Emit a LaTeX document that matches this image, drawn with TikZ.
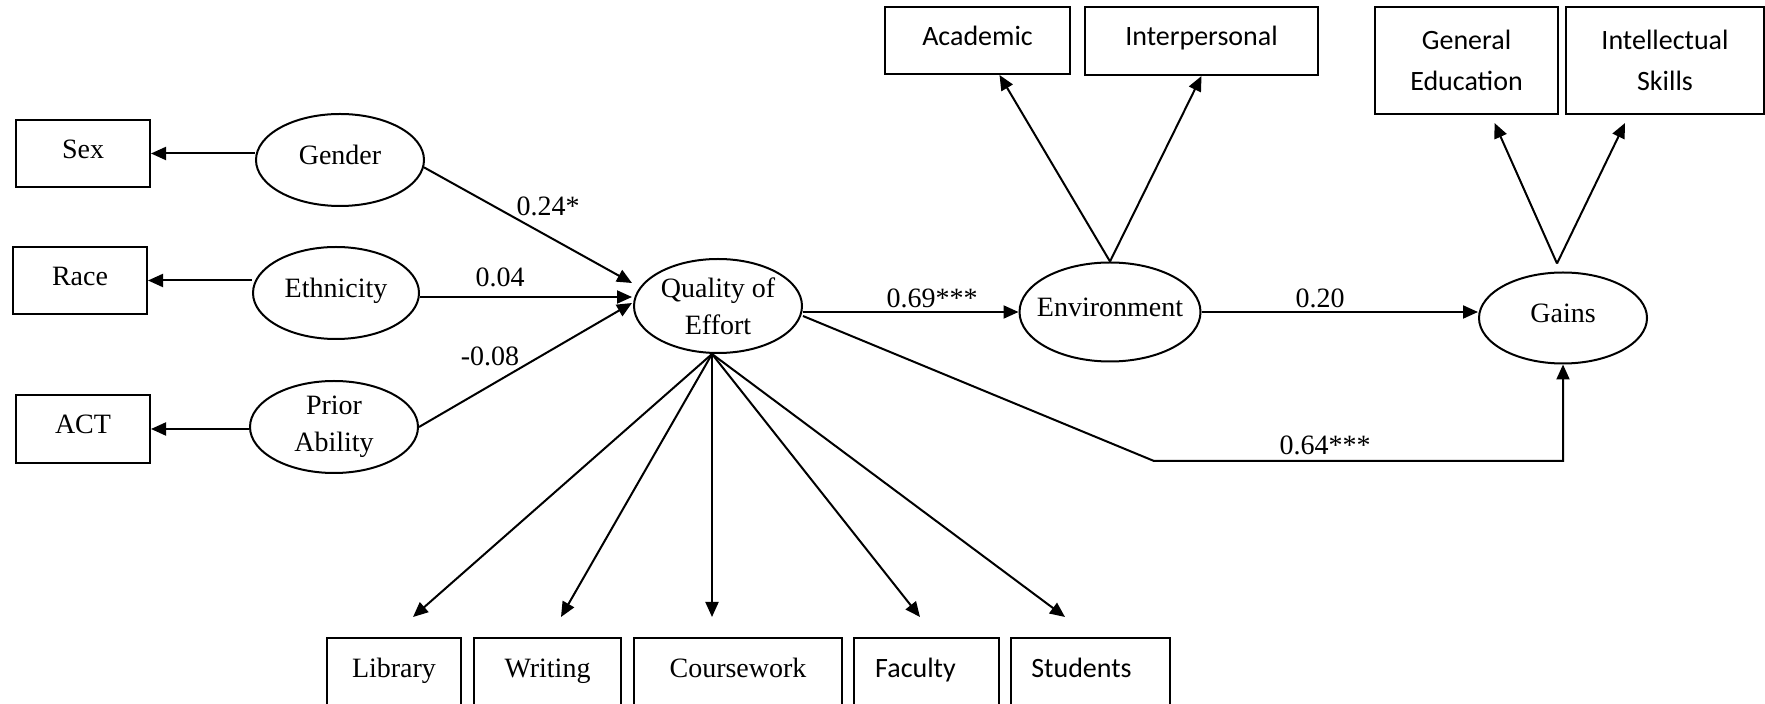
\documentclass[tikz,border=0pt]{standalone}
\usepackage{fontspec}
\setmainfont{Liberation Serif}
\newfontfamily\carl{Carlito}
\usetikzlibrary{arrows.meta,shapes.geometric,calc}
\newcommand{\zbox}[1]{\makebox[0pt]{#1}}
\begin{document}
\begin{tikzpicture}[x=0.5pt,y=-0.5pt,
  every node/.style={font=\fontsize{14pt}{18.5pt}\selectfont, inner sep=0pt},
  obs/.style={draw, rectangle, line width=1pt, text height=10pt, text depth=5pt},
  twobox/.style={draw, rectangle, line width=1pt, align=center, minimum height=53.5pt},
  lowbox/.style={draw, rectangle, line width=1pt, minimum height=37pt, text height=10pt, text depth=8pt},
  lat/.style={draw, ellipse, line width=1pt},
  lat1/.style={lat, text height=9.5pt, text depth=5pt},
  sans/.style={font=\carl\fontsize{14pt}{20.5pt}\selectfont},
  arr/.style={line width=1pt, -{Triangle[length=7.5pt,width=6.5pt]}}]
\useasboundingbox (0,0) rectangle (1765,704);
\begin{scope}
\clip (0,0) rectangle (1765,704);
% observed left
\node[obs, minimum width=67pt, minimum height=33.5pt] (sex) at (83,153.5) {Sex};
\node[obs, minimum width=67pt, minimum height=33.5pt] (race) at (80,280.5) {Race};
\node[obs, minimum width=67pt, minimum height=34pt] (act) at (83,429) {ACT};
% latent
\node[lat1, minimum width=84pt, minimum height=46pt] (gender) at (340,160) {\zbox{Gender}};
\node[lat1, minimum width=83pt, minimum height=46pt] (eth) at (336,293) {\zbox{Ethnicity}};
\node[lat, minimum width=84pt, minimum height=46pt, align=center] (prior) at (334,427) {\zbox{Prior}\\\zbox{Ability}};
\node[lat, minimum width=84pt, minimum height=47pt, align=center] (qoe) at (718,306) {\zbox{Quality of}\\\zbox{Effort}};
\node[lat1, minimum width=90.5pt, minimum height=49.5pt] (env) at (1110,312) {\zbox{Environment}};
\node[lat1, minimum width=84pt, minimum height=45.5pt] (gains) at (1563,318) {\zbox{Gains}};
% top boxes
\node[obs, sans, minimum width=92.5pt, minimum height=33.5pt] (acad) at (977.5,40.5) {Academic};
\node[obs, sans, minimum width=116.5pt, minimum height=34pt] (inter) at (1201.5,41) {Interpersonal};
\node[twobox, sans, minimum width=91.5pt] (gened) at (1466.5,60.5) {General\\Education};
\node[twobox, sans, minimum width=99pt] (intel) at (1665,60.5) {Intellectual\\Skills};
% bottom boxes
\node[lowbox, minimum width=67pt] (lib) at (394,675) {Library};
\node[lowbox, minimum width=73.5pt] (wri) at (547.5,675) {Writing};
\node[lowbox, minimum width=104pt] (cw) at (738,675) {Coursework};
\node[lowbox, sans, minimum width=72.5pt] (fac) at (926.5,675) {\hspace*{-11pt}Faculty};
\node[lowbox, sans, minimum width=79.5pt] (stu) at (1090.5,675) {\hspace*{-9pt}Students};
\end{scope}
% connectors left
\draw[arr] (gender.west |- sex.east) -- (sex.east);
\draw[arr] (eth.west |- race.east) -- (race.east);
\draw[arr] (prior.west |- act.east) -- (act.east);
\draw[arr] (gender.-5) -- ($(qoe.west)+(-1,-23)$);
\draw[arr] ($(eth.east)+(0,4)$) -- ($(qoe.west)+(-1,-9)$);
\draw[arr] (prior.east) -- ($(qoe.west)+(-1,-3)$);
% structural
\draw[arr] (qoe.east |- env.west) -- (env.west);
\draw[arr] (env.east) -- (env.east -| gains.west);
\coordinate (bend) at (1154,461);
\draw[arr] ($(qoe.east)+(0,10)$) -- (bend) -| (gains.south);
% environment indicators
\draw[arr] (env.north) -- ($(acad.south)+(22,0)$);
\draw[arr] (env.north) -- (inter.south);
% gains indicators
\coordinate (gtop) at ($(gains.north)+(-6,-8)$);
\draw[arr] (gtop) -- ($(gened.south)+(28,8)$);
\draw[arr] (gtop) -- ($(intel.south)+(-40,8)$);
% quality indicators
\coordinate (qb) at ($(qoe.south)+(-6,0)$);
\draw[arr] (qb) -- ($(lib.north)+(19,-20)$);
\draw[arr] (qb) -- ($(wri.north)+(13.5,-20)$);
\draw[arr] (qb) -- ($(cw.north)+(-26,-20)$);
\draw[arr] (qb) -- ($(fac.north)+(-6.5,-20)$);
\draw[arr] (qb) -- ($(stu.north)+(-25.5,-20)$);
% labels
\node (l1) at (548,206) {0.24*};
\node (l2) at (500,277) {0.04};
\node (l3) at (490,356) {-0.08};
\node (l4) at (932,298) {0.69***};
\node (l5) at (1320,298) {0.20};
\node (l6) at (1325,445) {0.64***};
\end{tikzpicture}
\end{document}
